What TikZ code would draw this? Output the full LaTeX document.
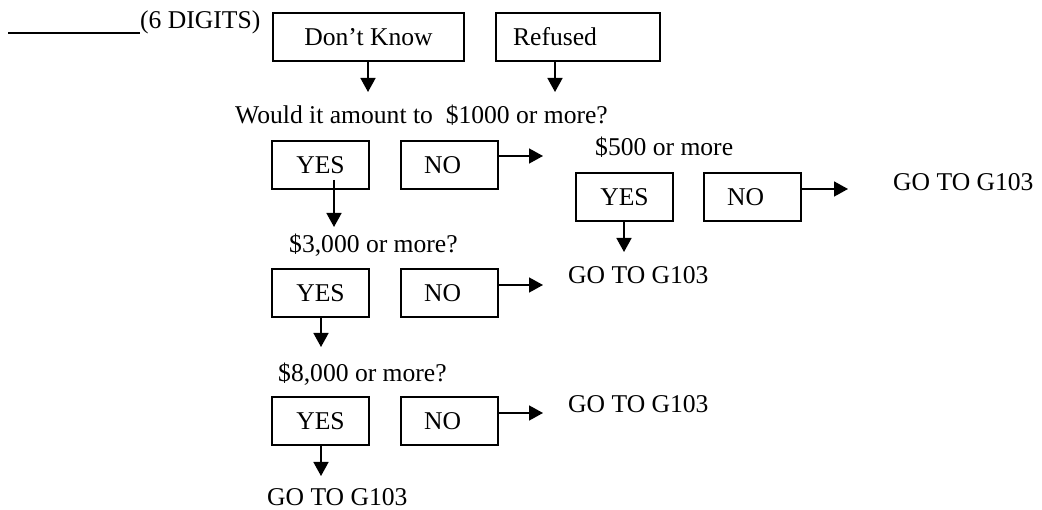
\documentclass[tikz,border=0pt]{standalone}
\usepackage{fontspec}
\setmainfont{Liberation Serif}
\usetikzlibrary{arrows.meta}
\begin{document}
\begin{tikzpicture}[x=1pt,y=-1pt,
  every node/.style={font=\fontsize{25.6}{30}\selectfont, inner sep=0pt},
  lbl/.style={anchor=base west},
  box/.style={draw, line width=1.8pt, minimum width=97pt, minimum height=48pt},
  arr/.style={line width=1.6pt, -{Triangle[width=15pt,length=14pt]}}]
\useasboundingbox (0,0) rectangle (1042,510);
% answer line
\coordinate (l1) at (8,33);
\node[lbl] (digits) at (140,29) {(6 DIGITS)};
\draw[line width=1.4pt] (l1) -- (digits.base west |- l1);
% Don't know / refused
\node[box, minimum width=191pt] (dk) at (368.5,37) {Don’t Know};
\node[box, minimum width=164pt] (ref) at (578,37) {Refused\hspace*{46pt}};
\node[lbl] (would) at (235,124) {Would it amount to \ \$1000 or more?};
\coordinate (dkt) at (368,92);
\coordinate (reft) at (555,92);
\draw[arr] (dk.south -| dkt) -- (dkt);
\draw[arr] (ref.south -| reft) -- (reft);
% row 1
\node[box] (yes1) at (320.5,165) {YES};
\node[box] (no1) at (449.6,165) {NO\hspace*{14pt}};
\coordinate (y1s) at (334,180);
\coordinate (y1t) at (334,227);
\draw[arr] (y1s) -- (y1t);
\coordinate (n1t) at (543,156);
\draw[arr] (no1.east |- n1t) -- (n1t);
\node[lbl] (q500) at (595,156) {\$500 or more};
% $500 row
\node[box] (yes5) at (624.5,197) {YES};
\node[box] (no5) at (752.5,197) {NO\hspace*{14pt}};
\coordinate (n5t) at (848,189);
\draw[arr] (no5.east |- n5t) -- (n5t);
\node[lbl] (go5) at (893,191) {GO TO G103};
\coordinate (y5t) at (624,252);
\draw[arr] (yes5.south -| y5t) -- (y5t);
% row 2
\node[lbl] (q3000) at (289,253) {\$3,000 or more?};
\node[box] (yes2) at (320.5,293) {YES};
\node[box] (no2) at (449.6,293) {NO\hspace*{14pt}};
\coordinate (n2t) at (543,285);
\draw[arr] (no2.east |- n2t) -- (n2t);
\node[lbl] (go2) at (568,284) {GO TO G103};
\coordinate (y2t) at (321,347);
\draw[arr] (yes2.south -| y2t) -- (y2t);
% row 3
\node[lbl] (q8000) at (278,382) {\$8,000 or more?};
\node[box] (yes3) at (320.5,421) {YES};
\node[box] (no3) at (449.6,421) {NO\hspace*{14pt}};
\coordinate (n3t) at (543,413);
\draw[arr] (no3.east |- n3t) -- (n3t);
\node[lbl] (go3) at (568,413) {GO TO G103};
\coordinate (y3t) at (321,476);
\draw[arr] (yes3.south -| y3t) -- (y3t);
\node[lbl] (go4) at (267,505) {GO TO G103};
\end{tikzpicture}
\end{document}
